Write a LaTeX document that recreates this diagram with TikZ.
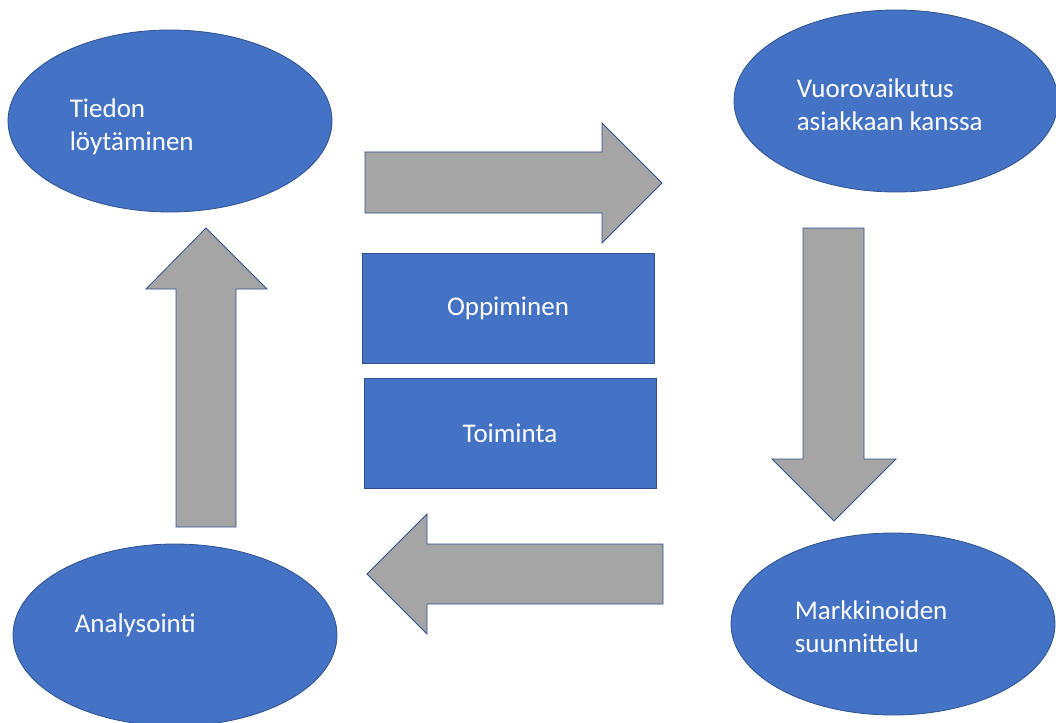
\documentclass[tikz,border=0pt]{standalone}
\usepackage{fontspec}
\setmainfont{Carlito}
\usepackage{xcolor}
\usetikzlibrary{positioning,shapes.geometric}
\definecolor{offblue}{HTML}{4472C4}
\definecolor{offedge}{HTML}{2F528F}
\definecolor{arrowgray}{HTML}{A5A5A5}

\begin{document}
\begin{tikzpicture}[x=1pt,y=-1pt,
  stage/.style={ellipse,draw=offedge,fill=offblue,line width=0.8pt,minimum width=324pt,minimum height=182pt,inner sep=0pt},
  lbl/.style={text=white,font=\fontsize{27}{33}\selectfont,align=left,inner sep=0pt,anchor=base west},
  box/.style={rectangle,draw=offedge,fill=offblue,line width=0.8pt,minimum width=292pt,minimum height=110pt,text=white,font=\fontsize{27}{33}\selectfont},
  blockarrow/.style={draw=offedge,fill=arrowgray,line width=0.8pt,line join=miter}]
  \useasboundingbox (0,0) rectangle (1056,722);
  \node[stage] (tiedon) at (170,121) {};
  \node[stage] (vuoro)  at (896,101) {};
  \node[stage] (markk)  at (893,624) {};
  \node[stage] (analys) at (175,635) {};
  \node[lbl] (tiedonTxt) at ([xshift=62pt,yshift=-30pt]tiedon.west) {Tiedon\\löytäminen};
  \node[lbl] (vuoroTxt)  at ([xshift=63pt,yshift=-30pt]vuoro.west)  {Vuorovaikutus\\asiakkaan kanssa};
  \node[lbl] (markkTxt)  at ([xshift=64pt,yshift=-28pt]markk.west)  {Markkinoiden\\suunnittelu};
  \node[lbl] (analysTxt) at ([xshift=62pt,yshift=3pt]analys.west) {Analysointi};
  \node[box] (oppi) at (508,308.5) {Oppiminen};
  \node[box] (toim) at (510,433) {Toiminta};
  \draw[blockarrow] (365,152) -- (602,152) -- (602,123) -- (662,183) -- (602,243) -- (602,213) -- (365,213) -- cycle;
  \draw[blockarrow] (803,228) -- (864,228) -- (864,459) -- (896,459) -- (834,521) -- (772,459) -- (803,459) -- cycle;
  \draw[blockarrow] (663,544) -- (427,544) -- (427,514) -- (367,574) -- (427,634) -- (427,604) -- (663,604) -- cycle;
  \draw[blockarrow] (176,527) -- (176,289) -- (146,289) -- (206,228) -- (267,289) -- (236,289) -- (236,527) -- cycle;
\end{tikzpicture}
\end{document}
